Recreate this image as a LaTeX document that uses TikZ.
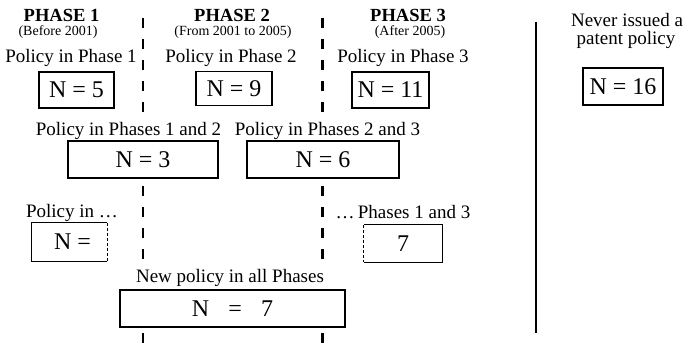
\documentclass[tikz,border=0pt]{standalone}
\usepackage{fontspec}
\setmainfont{Liberation Serif}
\usepackage{tikz}
\usetikzlibrary{calc}
\def\lblsize{\fontsize{19}{20}\selectfont}
\def\numsize{\fontsize{24}{26}\selectfont}
\tikzset{
	lbl/.style={anchor=base, fill=white, inner sep=1pt, font=\lblsize},
	plainlbl/.style={anchor=base, inner sep=0pt, font=\lblsize},
	head/.style={anchor=base, inner sep=0pt, font=\fontsize{18.5}{19}\selectfont\bfseries},
	sub/.style={anchor=base, inner sep=0pt, font=\fontsize{14}{15}\selectfont},
	numbox/.style={draw, line width=1.3pt, fill=white, inner sep=0pt, font=\numsize},
	openbox/.style={fill=white, inner sep=0pt, font=\numsize},
	divider/.style={line width=2.3pt, dash pattern=on 10pt off 11pt, dash phase=0pt}
}

\begin{document}
\begin{tikzpicture}[x=1pt, y=-1pt]
			%%%%% START %%%%%
			\useasboundingbox (0, 0) rectangle (687, 345);
			
			\draw[divider] (143, 18) -- (143, 345);
			\draw[divider] (322.5, 18) -- (322.5, 345);
			\draw[line width=2.5pt] (536, 22) -- (536, 333);
			
			\node[head] (ph1) at (61.5, 22) {PHASE 1};
			\node[sub] (ph1d) at (58, 36) {(Before 2001)};
			\node[head] (ph2) at (232, 22) {PHASE 2};
			\node[sub] (ph2d) at (233, 36) {(From 2001 to 2005)};
			\node[head] (ph3) at (408, 22) {PHASE 3};
			\node[sub] (ph3d) at (410, 36) {(After 2005)};
			
			\node[lbl] (l1) at (71, 63) {Policy in Phase 1};
			\node[lbl] (l2) at (231, 63) {Policy in Phase 2};
			\node[lbl] (l3) at (403, 63) {Policy in Phase 3};
			\node[plainlbl] (never) at (627, 27) {Never issued a};
			\node[plainlbl] (never2) at (626, 45) {patent policy};
			
			\node[numbox, minimum width=75pt, minimum height=36pt] (b5) at (76.5, 90) {N = 5};
			\node[numbox, minimum width=76pt, minimum height=34pt] (b9) at (234, 88.5) {N = 9};
			\node[numbox, minimum width=77pt, minimum height=36pt] (b11) at (390.5, 90) {N = 11};
			\node[numbox, minimum width=80pt, minimum height=37pt] (b16) at (623, 86.5) {N = 16};
			
			\node[lbl] (l12) at (128.5, 135) {Policy in Phases 1 and 2};
			\node[lbl] (l23) at (327.5, 135) {Policy in Phases 2 and 3};
			\node[numbox, minimum width=150pt, minimum height=37pt] (b3) at (143, 159.5) {N = 3};
			\node[numbox, minimum width=152pt, minimum height=37pt] (b6) at (323, 159.5) {N = 6};
			
			\node[lbl] (l13a) at (72, 217) {Policy in \dots};
			\node[lbl] (l13b) at (403, 218) {\dots\,Phases 1 and 3};
			\node[openbox, minimum width=75pt, minimum height=38pt] (bNa) at (69.5, 242) {\hspace{6pt}N =};
			\node[openbox, minimum width=78pt, minimum height=37pt] (bNb) at (403, 243.5) {7};
			\draw[line width=1.3pt] (bNa.north east) -- (bNa.north west) -- (bNa.south west) -- (bNa.south east);
			\draw[line width=1.3pt, dash pattern=on 3pt off 2pt] (bNa.north east) -- (bNa.south east);
			\draw[line width=1.3pt] (bNb.north west) -- (bNb.north east) -- (bNb.south east) -- (bNb.south west);
			\draw[line width=1.3pt, dash pattern=on 3pt off 2pt] (bNb.north west) -- (bNb.south west);
			
			\node[lbl] (lall) at (230, 282) {New policy in all Phases};
			\node[numbox, minimum width=225pt, minimum height=37pt] (ball) at (232.5, 308.5) {N\hspace{0.8em}=\hspace{0.8em}7};
			%%%%% END %%%%%
\end{tikzpicture}
\end{document}
